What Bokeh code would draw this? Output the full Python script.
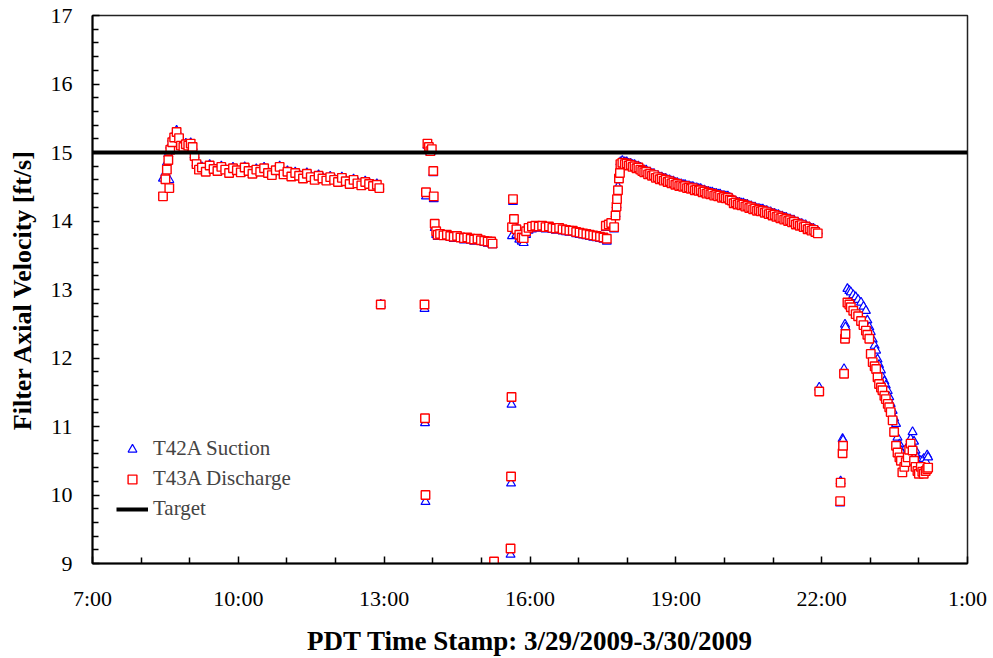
from bokeh.plotting import figure
from bokeh.models import FixedTicker, Legend, LegendItem, Range1d
from bokeh.embed import file_html
from bokeh.resources import INLINE

# ---------------- data (time in decimal hours from 0:00 on 3/29/2009) --------------
seg1_time = [8.45, 8.50, 8.53, 8.56, 8.58, 8.60, 8.64, 8.68, 8.73, 8.78, 8.82, 8.87, 8.92,
             8.97, 9.02, 9.06, 9.10, 9.14, 9.19, 9.25, 9.33, 9.41, 9.49, 9.57, 9.65, 9.73,
             9.81, 9.89, 9.97, 10.05, 10.13, 10.21, 10.29, 10.37, 10.45, 10.53, 10.61, 10.69,
             10.77, 10.85, 10.93, 11.01, 11.09, 11.17, 11.25, 11.33, 11.41, 11.49, 11.57,
             11.65, 11.73, 11.81, 11.89, 11.97, 12.05, 12.13, 12.21, 12.29, 12.37, 12.45,
             12.53, 12.61, 12.69, 12.77, 12.85, 12.90, 12.93]
seg1_discharge = [14.36, 14.61, 14.75, 14.89, 14.48, 15.04, 15.15, 15.22, 15.30, 15.21, 15.10,
                  15.08, 15.12, 15.10, 15.13, 15.08, 14.95, 14.83, 14.75, 14.78, 14.72, 14.81,
                  14.76, 14.73, 14.79, 14.75, 14.70, 14.77, 14.74, 14.71, 14.78, 14.73, 14.69,
                  14.75, 14.72, 14.77, 14.70, 14.67, 14.74, 14.79, 14.68, 14.72, 14.65, 14.70,
                  14.66, 14.62, 14.69, 14.64, 14.60, 14.66, 14.62, 14.59, 14.64, 14.60, 14.57,
                  14.63, 14.58, 14.54, 14.60, 14.55, 14.52, 14.57, 14.54, 14.51, 14.53, 14.48,
                  12.78]
seg1_suction = [14.62, 14.70, 14.85, 14.98, 14.60, 15.10, 15.20, 15.26, 15.32, 15.22, 15.12,
                15.09, 15.13, 15.11, 15.14, 15.08, 14.96, 14.84, 14.77, 14.79, 14.74, 14.82,
                14.77, 14.75, 14.80, 14.76, 14.72, 14.78, 14.75, 14.73, 14.79, 14.74, 14.71,
                14.76, 14.73, 14.78, 14.72, 14.69, 14.75, 14.80, 14.70, 14.73, 14.67, 14.71,
                14.68, 14.64, 14.70, 14.66, 14.62, 14.67, 14.64, 14.61, 14.65, 14.62, 14.59,
                14.64, 14.60, 14.56, 14.61, 14.57, 14.54, 14.58, 14.56, 14.53, 14.54, 14.50,
                12.78]

seg2_time = [13.83, 13.84, 13.85, 13.86, 13.89, 13.92, 13.95, 13.98, 14.01, 14.02, 14.04,
             14.07, 14.10, 14.15, 14.22, 14.29, 14.36, 14.43, 14.50, 14.57, 14.64, 14.71,
             14.78, 14.85, 14.92, 14.99, 15.06, 15.13, 15.20, 15.23, 15.26]
seg2_discharge = [12.78, 11.12, 10.00, 14.42, 15.13, 15.08, 15.02, 15.05, 14.73, 14.36, 13.96,
                  13.85, 13.80, 13.81, 13.79, 13.80, 13.78, 13.77, 13.78, 13.76, 13.75, 13.76,
                  13.74, 13.73, 13.74, 13.72, 13.71, 13.70, 13.70, 13.67, 9.03]
seg2_suction = [12.72, 11.05, 9.90, 14.36, 15.10, 15.05, 15.00, 15.02, 14.70, 14.32, 13.90,
                13.80, 13.77, 13.78, 13.77, 13.77, 13.76, 13.74, 13.75, 13.74, 13.72, 13.73,
                13.72, 13.70, 13.71, 13.70, 13.68, 13.67, 13.67, 13.65, 8.90]

seg3_time = [15.60, 15.61, 15.62, 15.63, 15.65, 15.67, 15.72, 15.78, 15.83, 15.87, 15.92,
             15.97, 16.04, 16.11, 16.18, 16.25, 16.32, 16.39, 16.46, 16.53, 16.60, 16.67,
             16.74, 16.81, 16.88, 16.95, 17.02, 17.09, 17.16, 17.23, 17.30, 17.37, 17.44,
             17.51, 17.56, 17.58, 17.62, 17.67, 17.73, 17.76, 17.78, 17.79, 17.81, 17.83,
             17.85, 17.86, 17.90, 17.95, 17.99, 18.03, 18.07, 18.11, 18.15, 18.19, 18.23,
             18.27, 18.31, 18.35, 18.39, 18.43, 18.47, 18.51, 18.55, 18.59, 18.63, 18.67,
             18.71, 18.75, 18.79, 18.83, 18.87, 18.91, 18.95, 18.99, 19.03, 19.07, 19.11,
             19.15, 19.19, 19.23, 19.27, 19.31, 19.35, 19.39, 19.43, 19.47, 19.51, 19.55,
             19.59, 19.63, 19.67, 19.71, 19.75, 19.79, 19.83, 19.87, 19.91, 19.95, 19.99,
             20.03, 20.07, 20.11, 20.15, 20.19, 20.23, 20.27, 20.31, 20.35, 20.39, 20.43,
             20.47, 20.51, 20.55, 20.59, 20.63, 20.67, 20.71, 20.75, 20.79, 20.83, 20.87,
             20.91, 20.95, 20.99, 21.03, 21.07, 21.11, 21.15, 21.19, 21.23, 21.27, 21.31,
             21.35, 21.39, 21.43, 21.47, 21.51, 21.55, 21.59, 21.63, 21.67, 21.71, 21.75,
             21.79, 21.83, 21.87, 21.92, 21.95]
seg3_discharge = [9.22, 10.27, 11.43, 13.91, 14.32, 14.03, 13.88, 13.80, 13.76, 13.75, 13.85,
                  13.90, 13.92, 13.93, 13.92, 13.93, 13.91, 13.92, 13.90, 13.89, 13.90, 13.88,
                  13.87, 13.86, 13.86, 13.84, 13.83, 13.82, 13.81, 13.80, 13.79, 13.78, 13.77,
                  13.76, 13.93, 13.74, 13.95, 13.97, 13.91, 14.08, 14.21, 14.32, 14.45, 14.62,
                  14.70, 14.83, 14.85, 14.83, 14.84, 14.81, 14.82, 14.79, 14.80, 14.77, 14.78,
                  14.75, 14.73, 14.71, 14.72, 14.68, 14.69, 14.66, 14.67, 14.63, 14.64, 14.61,
                  14.62, 14.59, 14.60, 14.57, 14.58, 14.55, 14.56, 14.53, 14.54, 14.51, 14.52,
                  14.50, 14.51, 14.48, 14.49, 14.47, 14.48, 14.45, 14.46, 14.44, 14.45, 14.42,
                  14.43, 14.40, 14.41, 14.39, 14.40, 14.37, 14.38, 14.36, 14.37, 14.34, 14.35,
                  14.33, 14.34, 14.31, 14.30, 14.26, 14.27, 14.24, 14.25, 14.23, 14.24, 14.21,
                  14.22, 14.19, 14.20, 14.17, 14.18, 14.15, 14.16, 14.14, 14.15, 14.12, 14.13,
                  14.10, 14.11, 14.08, 14.09, 14.06, 14.07, 14.04, 14.05, 14.02, 14.03, 14.00,
                  14.01, 13.98, 13.99, 13.95, 13.96, 13.93, 13.94, 13.91, 13.92, 13.88, 13.89,
                  13.86, 13.87, 13.84, 13.82, 11.51]
seg3_suction = [9.13, 10.17, 11.32, 13.78, 14.28, 13.98, 13.80, 13.73, 13.70, 13.68, 13.80,
                13.86, 13.88, 13.90, 13.89, 13.90, 13.88, 13.89, 13.87, 13.86, 13.87, 13.85,
                13.84, 13.83, 13.83, 13.81, 13.80, 13.79, 13.78, 13.77, 13.76, 13.75, 13.74,
                13.73, 13.90, 13.70, 13.92, 13.95, 13.88, 14.10, 14.23, 14.36, 14.50, 14.66,
                14.75, 14.86, 14.88, 14.86, 14.86, 14.84, 14.84, 14.82, 14.82, 14.80, 14.80,
                14.78, 14.76, 14.74, 14.74, 14.71, 14.71, 14.69, 14.69, 14.66, 14.66, 14.64,
                14.64, 14.62, 14.62, 14.60, 14.60, 14.58, 14.58, 14.56, 14.56, 14.54, 14.54,
                14.53, 14.53, 14.51, 14.51, 14.50, 14.50, 14.48, 14.48, 14.47, 14.47, 14.45,
                14.45, 14.43, 14.43, 14.42, 14.42, 14.40, 14.40, 14.39, 14.39, 14.37, 14.37,
                14.36, 14.36, 14.34, 14.33, 14.29, 14.29, 14.27, 14.27, 14.26, 14.26, 14.24,
                14.24, 14.22, 14.22, 14.20, 14.20, 14.18, 14.18, 14.17, 14.17, 14.15, 14.15,
                14.13, 14.13, 14.11, 14.11, 14.09, 14.09, 14.07, 14.07, 14.05, 14.05, 14.03,
                14.03, 14.01, 14.01, 13.98, 13.98, 13.96, 13.96, 13.94, 13.94, 13.91, 13.91,
                13.89, 13.89, 13.87, 13.85, 11.57]

seg4_time = [22.38, 22.39, 22.43, 22.44, 22.46, 22.48, 22.49, 22.53, 22.57, 22.60, 22.65,
             22.70, 22.75, 22.81, 22.86, 22.91, 22.94, 22.98, 23.01, 23.05, 23.09, 23.12,
             23.15, 23.18, 23.22, 23.25, 23.29, 23.32, 23.36, 23.39, 23.42, 23.46, 23.49,
             23.53, 23.56, 23.60, 23.63, 23.66, 23.70, 23.73, 23.77, 23.80, 23.83, 23.87,
             23.90, 23.93, 23.97, 24.00, 24.04, 24.07, 24.10, 24.14, 24.17, 24.19]
seg4_discharge = [9.91, 10.18, 10.61, 10.72, 11.77, 12.28, 12.35, 12.81, 12.78, 12.74, 12.69,
                  12.64, 12.61, 12.54, 12.48, 12.40, 12.34, 12.28, 12.06, 11.94, 11.88, 11.84,
                  11.72, 11.62, 11.57, 11.53, 11.45, 11.40, 11.33, 11.28, 11.21, 11.09, 10.92,
                  10.72, 10.62, 10.55, 10.50, 10.33, 10.41, 10.48, 10.55, 10.66, 10.75, 10.65,
                  10.50, 10.41, 10.35, 10.31, 10.41, 10.34, 10.31, 10.35, 10.38, 10.40]
seg4_suction = [9.88, 10.20, 10.82, 10.80, 11.84, 12.49, 12.45, 13.01, 12.98, 12.96, 12.92,
                12.89, 12.85, 12.81, 12.75, 12.69, 12.55, 12.45, 12.38, 12.27, 12.18, 12.11,
                11.98, 11.90, 11.82, 11.72, 11.66, 11.60, 11.52, 11.43, 11.33, 11.23, 11.12,
                11.04, 10.84, 10.74, 10.65, 10.60, 10.55, 10.50, 10.62, 10.75, 10.82, 10.92,
                10.78, 10.65, 10.55, 10.50, 10.50, 10.46, 10.53, 10.49, 10.58, 10.55]

target_time = [7.0, 25.0]
target_value = [15.0, 15.0]

x_tick_hours = [7, 10, 13, 16, 19, 22, 25]
x_tick_labels = ["7:00", "10:00", "13:00", "16:00", "19:00", "22:00", "1:00"]
series_labels = ["T42A Suction", "T43A Discharge", "Target"]

time_all = seg1_time + seg2_time + seg3_time + seg4_time
suction_all = seg1_suction + seg2_suction + seg3_suction + seg4_suction
discharge_all = seg1_discharge + seg2_discharge + seg3_discharge + seg4_discharge

# ---------------- figure --------------
FONT = "Liberation Serif"

p = figure(width=993, height=658, output_backend="svg", toolbar_location=None,
           x_range=Range1d(7, 25), y_range=Range1d(9, 17),
           min_border_left=92, min_border_right=26, min_border_top=15, min_border_bottom=95,
           background_fill_color="white", border_fill_color="white")
p.grid.visible = False
p.outline_line_color = "#222222"
p.outline_line_width = 1.5

r_s = p.scatter(time_all, suction_all, marker="triangle", size=9, line_color="#0000FF",
                fill_color="white", line_width=1.2)
r_d = p.scatter(time_all, discharge_all, marker="square", size=8.5, line_color="#FF0000",
                fill_color="white", line_width=1.4)
r_t = p.line(target_time, target_value, line_color="black", line_width=4)

minor_x = [h for h in range(8, 25) if h not in x_tick_hours]
p.xaxis.ticker = FixedTicker(ticks=x_tick_hours, minor_ticks=minor_x)
p.xaxis.major_label_overrides = {h: lab for h, lab in zip(x_tick_hours, x_tick_labels)}
minor_y = [9 + 0.2 * k for k in range(41) if k % 5 != 0]
p.yaxis.ticker = FixedTicker(ticks=list(range(9, 18)), minor_ticks=minor_y)

for ax in (p.xaxis[0], p.yaxis[0]):
    ax.axis_line_color = "black"
    ax.axis_line_width = 2
    ax.major_tick_in = 7
    ax.major_tick_out = 0
    ax.minor_tick_in = 6
    ax.minor_tick_out = 0
    ax.major_tick_line_color = "black"
    ax.minor_tick_line_color = "black"
    ax.major_tick_line_width = 1.5
    ax.minor_tick_line_width = 1.5
    ax.major_label_text_font = FONT
    ax.major_label_text_font_size = "22px"
    ax.major_label_text_color = "black"
    ax.axis_label_text_font = FONT
    ax.axis_label_text_font_style = "bold"
    ax.axis_label_text_color = "black"

p.xaxis.axis_label = "PDT Time Stamp: 3/29/2009-3/30/2009"
p.yaxis.axis_label = "Filter Axial Velocity [ft/s]"
p.xaxis.axis_label_text_font_size = "27px"
p.yaxis.axis_label_text_font_size = "26px"
p.xaxis.major_label_standoff = 22
p.xaxis.axis_label_standoff = 12
p.yaxis.major_label_standoff = 20
p.yaxis.axis_label_standoff = 11

legend = Legend(items=[LegendItem(label=series_labels[0], renderers=[r_s]),
                       LegendItem(label=series_labels[1], renderers=[r_d]),
                       LegendItem(label=series_labels[2], renderers=[r_t])],
                location=(24, 42), padding=0, margin=0, spacing=5,
                glyph_width=32, glyph_height=22, label_height=22, label_standoff=5,
                label_text_font=FONT, label_text_font_size="21px",
                background_fill_alpha=0, border_line_alpha=0)
p.add_layout(legend)

open("out.html", "w").write(file_html(p, INLINE))
